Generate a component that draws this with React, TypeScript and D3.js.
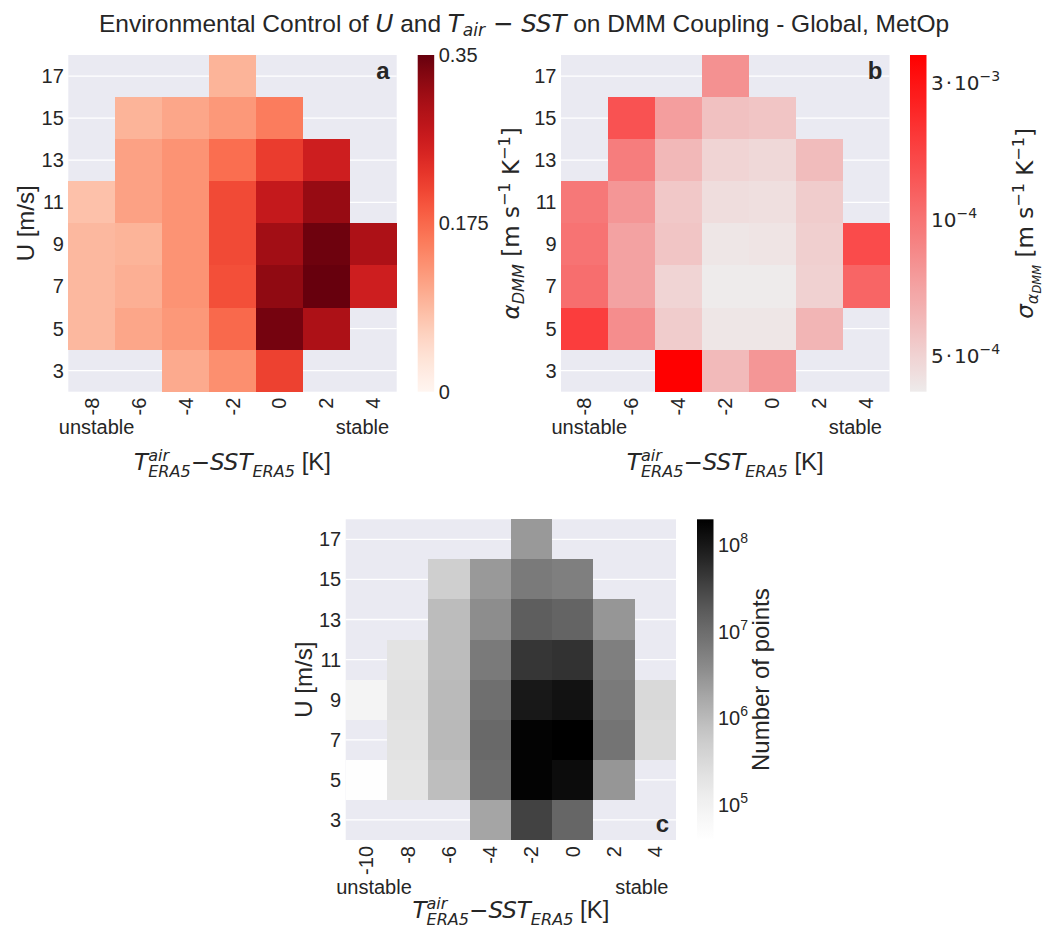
import { useEffect, useRef } from "react";
import * as d3 from "d3";

const W = 1048;
const H = 929;

// bin centres
const tempBinsAB = [-8, -6, -4, -2, 0, 2, 4];
const tempBinsC = [-10, -8, -6, -4, -2, 0, 2, 4];
const windBins = [17, 15, 13, 11, 9, 7, 5, 3];

// panel a: DMM coupling slope, rows follow windBins
const couplingSlope = [
  [null, null, null, 0.095, null, null, null],
  [null, 0.095, 0.11, 0.125, 0.155, null, null],
  [null, 0.115, 0.13, 0.17, 0.22, 0.26, null],
  [0.08, 0.115, 0.13, 0.205, 0.27, 0.315, null],
  [0.09, 0.095, 0.13, 0.205, 0.305, 0.345, 0.295],
  [0.09, 0.1, 0.13, 0.2, 0.32, 0.35, 0.26],
  [0.09, 0.11, 0.125, 0.175, 0.34, 0.295, null],
  [null, null, 0.105, 0.135, 0.215, null, null],
];

// panel b: std of coupling
const couplingStd = [
  [null, null, null, 1.35e-3, null, null, null],
  [null, 2.18e-3, 1.19e-3, 0.73e-3, 0.67e-3, null, null],
  [null, 1.62e-3, 0.85e-3, 0.48e-3, 0.42e-3, 0.79e-3, null],
  [1.69e-3, 1.29e-3, 0.64e-3, 0.36e-3, 0.33e-3, 0.58e-3, null],
  [1.75e-3, 1.13e-3, 0.67e-3, 0.24e-3, 0.27e-3, 0.55e-3, 2.27e-3],
  [1.81e-3, 1.13e-3, 0.48e-3, 0.18e-3, 0.18e-3, 0.52e-3, 1.93e-3],
  [2.46e-3, 1.41e-3, 0.58e-3, 0.24e-3, 0.24e-3, 0.89e-3, null],
  [null, null, 3.26e-3, 0.82e-3, 1.29e-3, null, null],
];

// panel c: number of points
const pointCounts = [
  [null, null, null, null, 2.5e6, null, null, null],
  [null, null, 4.6e5, 2.5e6, 6.3e6, 5.4e6, null, null],
  [null, null, 9.0e5, 3.5e6, 1.5e7, 1.25e7, 2.7e6, null],
  [null, 1.95e5, 9.0e5, 6.3e6, 4.4e7, 4.8e7, 5.4e6, null],
  [7.8e4, 2.1e5, 9.4e5, 8.9e6, 9.6e7, 1.13e8, 6.3e6, 3.0e5],
  [null, 1.95e5, 9.8e5, 1.05e7, 1.72e8, 1.87e8, 7.5e6, 2.76e5],
  [3.9e4, 1.8e5, 8.3e5, 9.7e6, 1.72e8, 1.34e8, 2.7e6, null],
  [null, null, null, 1.78e6, 3.2e7, 1.15e7, null, null],
];

const slopeTicks = [0, 0.175, 0.35];
const slopeTickLabels = ["0", "0.175", "0.35"];
const stdTicks = [3e-3, 1.75e-3, 5e-4];
const stdTickLabels = [["3", "−3"], ["", "−4"], ["5", "−4"]];
const countTicks = [1e5, 1e6, 1e7, 1e8];

const SANS = "'Liberation Sans', Arial, sans-serif";
const MATH = "'DejaVu Sans', sans-serif";
const INK = "#262626";

const canvas = document.createElement("canvas");
const ctx = canvas.getContext("2d");
function textWidth(s, size, italic = false, family = MATH) {
  ctx.font = `${italic ? "italic " : ""}${size}px ${family}`;
  return ctx.measureText(s).width;
}

type Part = { t: string; it?: boolean; s?: number; dy?: number; dx?: number; f?: string };

function mathText(g, x, y, parts: Part[], size, anchor = "middle", rotate = false) {
  const t = g.append("text")
    .attr("transform", `translate(${x},${y})${rotate ? " rotate(-90)" : ""}`)
    .attr("text-anchor", anchor)
    .attr("fill", INK)
    .style("white-space", "pre")
    .style("font-size", size + "px");
  parts.forEach((p) => {
    t.append("tspan")
      .text(p.t)
      .style("font-family", p.f || MATH)
      .style("font-style", p.it ? "italic" : "normal")
      .style("font-size", size * (p.s || 1) + "px")
      .attr("dy", p.dy || 0)
      .attr("dx", p.dx || 0);
  });
  return t;
}

function App() {
  const svgRef = useRef(null);

  useEffect(() => {
    const svg = d3.select(svgRef.current);
    svg.selectAll("*").remove();
    const defs = svg.append("defs");

    const panels = [
      {
        key: "a", left: 68.3, right: 396.7, top: 55, bottom: 391.7, xs: tempBinsAB, rows: couplingSlope,
        color: d3.scaleSequential(d3.interpolateReds).domain([0, 0.35]),
        cbLeft: 417.7, labelY: 434, xlabY: 470, letterY: 79, ylab: "U",
      },
      {
        key: "b", left: 561, right: 889.5, top: 55, bottom: 391.7, xs: tempBinsAB, rows: couplingStd,
        color: d3.scaleSequential(d3.interpolateRgb("#eeebeb", "#ff0000")).domain([1.77e-4, 3.256e-3]),
        cbLeft: 910, labelY: 434, xlabY: 470, letterY: 79, ylab: "alpha",
      },
      {
        key: "c", left: 345.7, right: 676, top: 519.3, bottom: 840, xs: tempBinsC, rows: pointCounts,
        color: d3.scaleSequentialLog(d3.interpolateGreys).domain([3.74e4, 1.875e8]),
        cbLeft: 697, labelY: 894, xlabY: 918, letterY: 832, ylab: "U",
      },
    ];

    panels.forEach((p) => {
      const g = svg.append("g");
      const step = p.xs[1] - p.xs[0];
      const x = d3.scaleLinear()
        .domain([p.xs[0] - step / 2, p.xs[p.xs.length - 1] + step / 2])
        .range([p.left, p.right]);
      const y = d3.scaleLinear()
        .domain([windBins[windBins.length - 1] - 1, windBins[0] + 1])
        .range([p.bottom, p.top]);

      // background + grid
      g.append("rect")
        .attr("x", p.left).attr("y", p.top)
        .attr("width", p.right - p.left).attr("height", p.bottom - p.top)
        .attr("fill", "#eaeaf2");
      g.append("g").selectAll("line")
        .data(windBins)
        .join("line")
        .attr("x1", p.left).attr("x2", p.right)
        .attr("y1", (d) => y(d)).attr("y2", (d) => y(d))
        .attr("stroke", "#fff").attr("stroke-width", 1.3);

      // cells
      const cells = [];
      p.rows.forEach((row, i) => row.forEach((v, j) => {
        if (v != null) cells.push({ u: windBins[i], t: p.xs[j], v });
      }));
      g.append("g").selectAll("rect")
        .data(cells)
        .join("rect")
        .attr("x", (d) => x(d.t - step / 2))
        .attr("width", (d) => x(d.t + step / 2) - x(d.t - step / 2))
        .attr("y", (d) => y(d.u + 1))
        .attr("height", (d) => y(d.u - 1) - y(d.u + 1))
        .attr("fill", (d) => p.color(d.v))
        .attr("shape-rendering", "crispEdges");

      // y ticks
      g.append("g").selectAll("text")
        .data(windBins)
        .join("text")
        .attr("x", p.left - 4.5)
        .attr("y", (d) => y(d))
        .attr("text-anchor", "end")
        .attr("dominant-baseline", "central")
        .style("font-family", SANS).style("font-size", "20px").attr("fill", INK)
        .text((d) => d);

      // x ticks, rotated
      g.append("g").selectAll("text")
        .data(p.xs)
        .join("text")
        .attr("transform", (d) => `translate(${x(d)},${p.bottom + 6}) rotate(-90)`)
        .attr("text-anchor", "end")
        .attr("dominant-baseline", "central")
        .style("font-family", SANS).style("font-size", "20px").attr("fill", INK)
        .text((d) => d);

      g.append("text")
        .attr("x", p.left - 9.5).attr("y", p.labelY)
        .style("font-family", SANS).style("font-size", "20px").attr("fill", INK)
        .text("unstable");
      g.append("text")
        .attr("x", p.right - 7.5).attr("y", p.labelY)
        .attr("text-anchor", "end")
        .style("font-family", SANS).style("font-size", "20px").attr("fill", INK)
        .text("stable");

      // x label
      const xs = 23;
      mathText(g, (p.left + p.right) / 2, p.xlabY, [
        { t: "T", it: true },
        { t: "air", it: true, s: 0.7, dy: -9.5 },
        { t: "ERA5", it: true, s: 0.7, dy: 16, dx: -textWidth("air", xs * 0.7, true) },
        { t: "−", dy: -6.5 },
        { t: "SST", it: true },
        { t: "ERA5", it: true, s: 0.7, dy: 6.5 },
        { t: " [K]", f: SANS, s: 1.04, dy: -6.5 },
      ], xs);

      // y label
      const cy = (p.top + p.bottom) / 2;
      if (p.ylab === "U") {
        g.append("text")
          .attr("transform", `translate(${p.left - 34},${cy}) rotate(-90)`)
          .attr("text-anchor", "middle")
          .style("font-family", SANS).style("font-size", "24px").attr("fill", INK)
          .text("U [m/s]");
      } else {
        mathText(g, p.left - 42, cy, [
          { t: "α", it: true },
          { t: "DMM", it: true, s: 0.7, dy: 5 },
          { t: " [m s", dy: -5 },
          { t: "−1", s: 0.7, dy: -9 },
          { t: " K", dy: 9 },
          { t: "−1", s: 0.7, dy: -9 },
          { t: "]", dy: 9 },
        ], 23, "middle", true);
      }

      // panel letter
      g.append("text")
        .attr("x", p.right - 7).attr("y", p.letterY)
        .attr("text-anchor", "end")
        .style("font-family", SANS).style("font-size", "24px").style("font-weight", "700").attr("fill", INK)
        .text(p.key);

      // colorbar
      const cbW = 16.5;
      const gid = "grad-" + p.key;
      const grad = defs.append("linearGradient").attr("id", gid)
        .attr("x1", 0).attr("y1", 1).attr("x2", 0).attr("y2", 0);
      const interp = p.color.interpolator();
      d3.range(0, 41).forEach((i) => {
        grad.append("stop").attr("offset", i / 40).attr("stop-color", interp(i / 40));
      });
      g.append("rect")
        .attr("x", p.cbLeft).attr("y", p.top)
        .attr("width", cbW).attr("height", p.bottom - p.top)
        .attr("fill", `url(#${gid})`);

      const cbScale = p.key === "c"
        ? d3.scaleLog().domain(p.color.domain()).range([p.bottom, p.top])
        : d3.scaleLinear().domain(p.color.domain()).range([p.bottom, p.top]);
      const tx = p.cbLeft + cbW + 4.5;

      if (p.key === "a") {
        slopeTicks.forEach((v, i) => {
          g.append("text")
            .attr("x", tx).attr("y", cbScale(v))
            .attr("dominant-baseline", "central")
            .style("font-family", SANS).style("font-size", "20px").attr("fill", INK)
            .text(slopeTickLabels[i]);
        });
      } else if (p.key === "b") {
        stdTicks.forEach((v, i) => {
          const [m, e] = stdTickLabels[i];
          const parts: Part[] = [];
          if (m) parts.push({ t: m + "\u200a·\u200a" });
          parts.push({ t: "10" }, { t: e, s: 0.7, dy: -9 });
          mathText(g, tx, cbScale(v) + 7, parts, 20, "start");
        });
        mathText(g, 1033, cy, [
          { t: "σ", it: true },
          { t: "α", it: true, s: 0.7, dy: 5 },
          { t: "DMM", it: true, s: 0.5, dy: 3 },
          { t: " [m s", dy: -8 },
          { t: "−1", s: 0.7, dy: -9 },
          { t: " K", dy: 9 },
          { t: "−1", s: 0.7, dy: -9 },
          { t: "]", dy: 9 },
        ], 23, "middle", true);
      } else {
        countTicks.forEach((v) => {
          mathText(g, tx, cbScale(v) + 9, [
            { t: "10", f: SANS },
            { t: String(Math.round(Math.log10(v))), f: SANS, s: 0.7, dy: -9 },
          ], 20, "start");
        });
        g.append("text")
          .attr("transform", `translate(769,${cy}) rotate(-90)`)
          .attr("text-anchor", "middle")
          .style("font-family", SANS).style("font-size", "24px").attr("fill", INK)
          .text("Number of points");
      }
    });

    // title
    mathText(svg, W / 2, 31.5, [
      { t: "Environmental Control of ", f: SANS },
      { t: "U", it: true },
      { t: " and ", f: SANS },
      { t: "T", it: true },
      { t: "air", it: true, s: 0.7, dy: 4 },
      { t: " − ", dy: -4 },
      { t: "SST", it: true },
      { t: " on DMM Coupling - Global, MetOp", f: SANS },
    ], 24.5);
  }, []);

  return (
    <div style={{ position: "absolute", left: 0, top: 0 }}>
      <svg ref={svgRef} width={W} height={H} style={{ display: "block", background: "#fff" }} />
    </div>
  );
}

export default App;
